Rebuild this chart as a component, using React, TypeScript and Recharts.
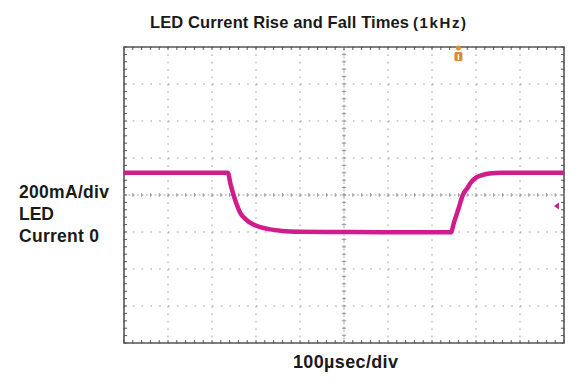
import {
   LineChart,
   CartesianGrid,
   XAxis,
   YAxis,
   Line,
   ReferenceLine,
   ReferenceArea,
   ReferenceDot,
} from "recharts"

// scope trace, in divisions (x: 100µs/div, y: 200mA/div, 0 = LED current zero)
const timeDiv = [
   0, 1, 2, 2.36, 2.42, 2.49, 2.56, 2.64, 2.75, 2.94, 3.1, 3.32, 3.6, 4.0, 5.0, 6.0,
   7.43, 7.5, 7.6, 7.7, 7.8, 7.9, 8.0, 8.15, 8.3, 8.6, 9.0, 10,
]
const currentDiv = [
   1.6, 1.6, 1.6, 1.6, 1.3, 1.0, 0.75, 0.52, 0.36, 0.2, 0.13, 0.07, 0.03, 0.01, 0, -0.01,
   -0.01, 0.26, 0.62, 1.0, 1.18, 1.36, 1.47, 1.54, 1.58, 1.6, 1.6, 1.6,
]

const xTicks = [0, 1, 2, 3, 4, 5, 6, 7, 8, 9, 10]
const yTicks = [-3, -2, -1, 0, 1, 2, 3, 4, 5]

const triggerTime = 7.6
const triggerLevel = 0.7

const data = timeDiv.map((t, i) => ({ t, i: currentDiv[i] }))

// minor ticks every 0.2 div
const minorX = Array.from({ length: 51 }, (_, k) => +(k * 0.2).toFixed(2))
const minorY = Array.from({ length: 41 }, (_, k) => +(-3 + k * 0.2).toFixed(2))

const TRACE = "#d01c8c"
const GRID = "#9c9c9c"
const FRAME = "#555"

const TriggerMark = (p: any) => (
   <g>
      <circle cx={p.cx} cy={p.cy + 1} r={2.5} fill="#e0902a" />
      <rect x={p.cx - 4} y={p.cy + 5} width={8} height={9} rx={1.5} fill="#e0882a" />
      <rect x={p.cx - 0.7} y={p.cy + 7} width={1.4} height={6} fill="#fff" />
   </g>
)

const LevelMark = (p: any) => (
   <polygon
      points={`${p.cx - 3},${p.cy} ${p.cx + 2},${p.cy - 3.5} ${p.cx + 2},${p.cy + 3.5}`}
      fill={TRACE}
   />
)

const textStyle = {
   fontFamily: "'Liberation Sans', Arial, sans-serif",
   fontWeight: 700,
   fill: "#1a1a1a",
}

export default function App() {
   return (
      <div style={{ position: "absolute", left: 0, top: 0, width: 586, height: 387, background: "#fff" }}>
         <LineChart
            width={586}
            height={387}
            data={data}
            margin={{ top: 47, right: 22, bottom: 44, left: 124 }}
         >
            <XAxis type="number" dataKey="t" domain={[0, 10]} ticks={xTicks} hide />
            <YAxis type="number" domain={[-3, 5]} ticks={yTicks} hide />
            <CartesianGrid vertical={false} stroke={GRID} strokeDasharray="1.6 7.2" />
            <CartesianGrid horizontal={false} stroke={GRID} strokeDasharray="1.6 5.8" />
            <ReferenceLine y={1} stroke={GRID} strokeDasharray="1.6 2.8" />
            <ReferenceLine x={5} stroke={GRID} strokeDasharray="1.6 2.1" />
            {minorX.map((x) => (
               <ReferenceLine
                  key={"cx" + x}
                  segment={[{ x, y: 0.95 }, { x, y: 1.05 }]}
                  stroke={GRID}
               />
            ))}
            {minorY.map((y) => (
               <ReferenceLine
                  key={"cy" + y}
                  segment={[{ x: 4.95, y }, { x: 5.05, y }]}
                  stroke={GRID}
               />
            ))}
            {minorX.map((x) => (
               <ReferenceLine
                  key={"tx" + x}
                  segment={[{ x, y: 5 }, { x, y: 4.92 }]}
                  stroke={FRAME}
               />
            ))}
            {minorX.map((x) => (
               <ReferenceLine
                  key={"bx" + x}
                  segment={[{ x, y: -3 }, { x, y: -2.92 }]}
                  stroke={FRAME}
               />
            ))}
            {minorY.map((y) => (
               <ReferenceLine
                  key={"ly" + y}
                  segment={[{ x: 0, y }, { x: 0.07, y }]}
                  stroke={FRAME}
               />
            ))}
            {minorY.map((y) => (
               <ReferenceLine
                  key={"ry" + y}
                  segment={[{ x: 10, y }, { x: 9.93, y }]}
                  stroke={FRAME}
               />
            ))}
            <ReferenceArea
               x1={0}
               x2={10}
               y1={-3}
               y2={5}
               fill="none"
               stroke={FRAME}
               strokeWidth={1.6}
            />
            <Line
               type="monotone"
               dataKey="i"
               stroke={TRACE}
               strokeWidth={4.5}
               dot={false}
               isAnimationActive={false}
            />
            <ReferenceDot x={triggerTime} y={5} ifOverflow="visible" shape={TriggerMark} />
            <ReferenceDot x={9.84} y={triggerLevel} ifOverflow="visible" shape={LevelMark} />
         </LineChart>
         <svg
            width={586}
            height={387}
            style={{ position: "absolute", left: 0, top: 0, pointerEvents: "none" }}
         >
            <text x={150} y={28} fontSize={16.5} textLength={259} {...textStyle}>
               LED Current Rise and Fall Times
            </text>
            <text x={413} y={28} fontSize={15} textLength={53} {...textStyle}>
               (1kHz)
            </text>
            <text x={19} y={198} fontSize={17.5} textLength={90} {...textStyle}>
               200mA/div
            </text>
            <text x={19} y={220} fontSize={17.5} {...textStyle}>
               LED
            </text>
            <text x={19} y={242} fontSize={17.5} textLength={80} {...textStyle}>
               Current 0
            </text>
            <text x={293} y={368} fontSize={18} textLength={105} {...textStyle}>
               100µsec/div
            </text>
         </svg>
      </div>
   )
}
